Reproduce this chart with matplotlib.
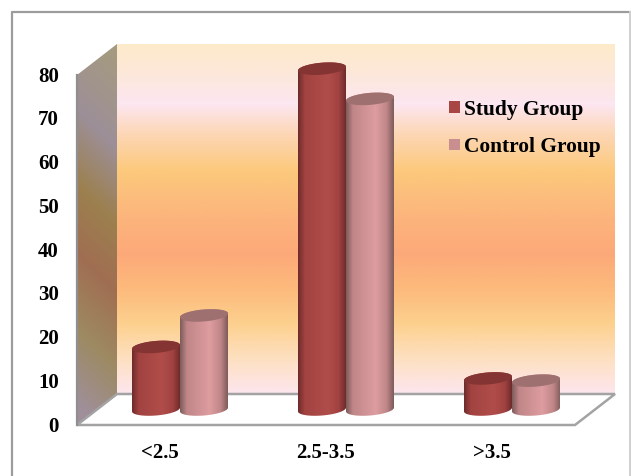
import numpy as np
import matplotlib
matplotlib.use("Agg")
import matplotlib.pyplot as plt
from matplotlib.colors import LinearSegmentedColormap
from matplotlib.lines import Line2D
from matplotlib.patches import PathPatch, Polygon, Rectangle
from matplotlib.path import Path

categories = ["<2.5", "2.5-3.5", ">3.5"]
study_group = [14.3, 77.9, 7.1]
control_group = [21.5, 71.0, 6.6]
series_names = ["Study Group", "Control Group"]
y_ticks = [0, 10, 20, 30, 40, 50, 60, 70, 80]

W, H = 631, 476
plt.rcParams["font.family"] = ["Liberation Serif", "DejaVu Serif"]
fig = plt.figure(figsize=(W / 100, H / 100), dpi=100, facecolor="white")

# Front plane of the box in figure pixels: three category slots, 0-80 on y.
L, R, B, T = 77, 575, 425, 75
px_x = 3 / (R - L)
px_y = 80 / (B - T)
depth_x = 40 * px_x
depth_y = 31 * px_y

# The axes fill the figure; the limits keep the data scale on that front plane.
ax = fig.add_axes([0, 0, 1, 1])
XLIM = (-L * px_x, (W - L) * px_x)
YLIM = ((B - H) * px_y, B * px_y)
ax.axis("off")
GREY = "#a3a3a3"

# Chart-area border, open along the bottom edge of the image
fig.add_artist(Line2D([12 / W, 12 / W, 629.5 / W], [0, 1 - 12 / H, 1 - 12 / H],
                      color="#9c9c9c", linewidth=1.6))
fig.add_artist(Line2D([630 / W, 630 / W], [0, 1 - 12 / H],
                      color="#cfcfcf", linewidth=1.4))

wall_stops = [(0.00, "#fdebcb"), (0.08, "#fde8da"), (0.17, "#fce6f1"),
              (0.24, "#fdd9bf"), (0.36, "#fcc97c"), (0.50, "#fcb47c"),
              (0.60, "#fda979"), (0.70, "#fcba7c"), (0.80, "#fdd08e"),
              (0.90, "#fde0c0"), (1.00, "#fde6ee")]
wall_cmap = LinearSegmentedColormap.from_list("wall", wall_stops)
ax.imshow(np.linspace(0, 1, 400)[:, None], cmap=wall_cmap, aspect="auto",
          origin="upper", extent=(depth_x, 3 + depth_x, depth_y, 80 + depth_y),
          zorder=1)

# Side wall: diagonal shading across a sheared panel
side_stops = [(0.00, "#a49a82"), (0.22, "#9d8f98"), (0.42, "#9c804e"),
              (0.60, "#a06e52"), (0.80, "#9d8a62"), (1.00, "#a08f9a")]
side_cmap = LinearSegmentedColormap.from_list("side", side_stops)
gy, gx = np.mgrid[0:1:300j, 0:1:60j]
side_img = side_cmap(np.clip(gy + 0.10 * (0.5 - gx), 0, 1))
im = ax.imshow(side_img, aspect="auto", origin="upper",
               extent=(0, depth_x, 0, 80 + depth_y), zorder=1)
side_poly = Polygon([(0, 0), (depth_x, depth_y), (depth_x, 80 + depth_y), (0, 80)],
                    closed=True, facecolor="none", edgecolor="none")
ax.add_patch(side_poly)
im.set_clip_path(side_poly)

# Floor and box edges
ax.add_patch(Polygon([(0, 0), (3, 0), (3 + depth_x, depth_y), (depth_x, depth_y)],
                     closed=True, facecolor="white", edgecolor=GREY, linewidth=1.8,
                     zorder=2))
ax.plot([0, 0], [0, 80], color="#8f8f8f", linewidth=1.6, zorder=2)


def shade(edge, mid, peak):
    return LinearSegmentedColormap.from_list(
        "cyl", [(0, edge), (0.14, mid), (0.62, peak), (0.85, mid), (1, edge)])


def cylinder(cx, value, half_w, cmap, top_color, z):
    """One cylinder standing on the mid-depth floor line."""
    base = depth_y / 2
    top = base + value
    b = 6.0 * px_y
    k = 1.9 * px_y
    t = np.linspace(0, 2 * np.pi, 90)
    ex = cx + half_w * np.cos(t)
    ey = b * np.sin(t) + k * np.cos(t)
    lower = np.linspace(np.pi, 2 * np.pi, 45)
    upper = np.linspace(0, np.pi, 45)
    body = np.r_[
        np.c_[cx + half_w * np.cos(lower), base + b * np.sin(lower) + k * np.cos(lower)],
        np.c_[cx + half_w * np.cos(upper), top + b * np.sin(upper) + k * np.cos(upper)],
    ]
    patch = PathPatch(Path(body), facecolor="none", edgecolor="none", zorder=z)
    ax.add_patch(patch)
    img = ax.imshow(np.linspace(0, 1, 100)[None, :], cmap=cmap, aspect="auto",
                    extent=(cx - half_w, cx + half_w, base - b - k, top + b + k),
                    zorder=z)
    img.set_clip_path(patch)
    ax.add_patch(Polygon(np.c_[ex, top + ey], closed=True, facecolor=top_color,
                         edgecolor="none", zorder=z + 0.1))


study_cmap = shade("#6f2c2c", "#a24341", "#b04d4a")
control_cmap = shade("#7f5c5b", "#c08688", "#de9da0")
half = 24 * px_x
offset = depth_x / 2
for i, (s, c) in enumerate(zip(study_group, control_group)):
    center = i + 0.5 + offset
    cylinder(center - half, s, half, study_cmap, "#843432", 3)
    cylinder(center + half, c, half, control_cmap, "#9e7070", 4)

ax.set_xlim(*XLIM)
ax.set_ylim(*YLIM)

# Value-axis and category labels
for v in y_ticks:
    ax.text(-18 * px_x, v + 0.2, str(v), ha="right", va="center_baseline", fontsize=15,
            fontweight="bold", color="black")
for i, name in enumerate(categories):
    ax.text(i + 0.5, -25 * px_y, name, ha="center", va="center_baseline", fontsize=15,
            fontweight="bold", color="black")

# Legend
legend_y = [107, 144.5]
legend_colors = ["#a84644", "#c98e90"]
for name, yp, col in zip(series_names, legend_y, legend_colors):
    fig.add_artist(Rectangle((449 / W, 1 - (yp + 5.5) / H), 11 / W, 11 / H,
                             transform=fig.transFigure, facecolor=col, edgecolor="none"))
    fig.text(464.5 / W, 1 - yp / H, name, ha="left", va="center_baseline", fontsize=15.4,
             fontweight="bold", color="black")

fig.savefig("out.png", dpi=100)
